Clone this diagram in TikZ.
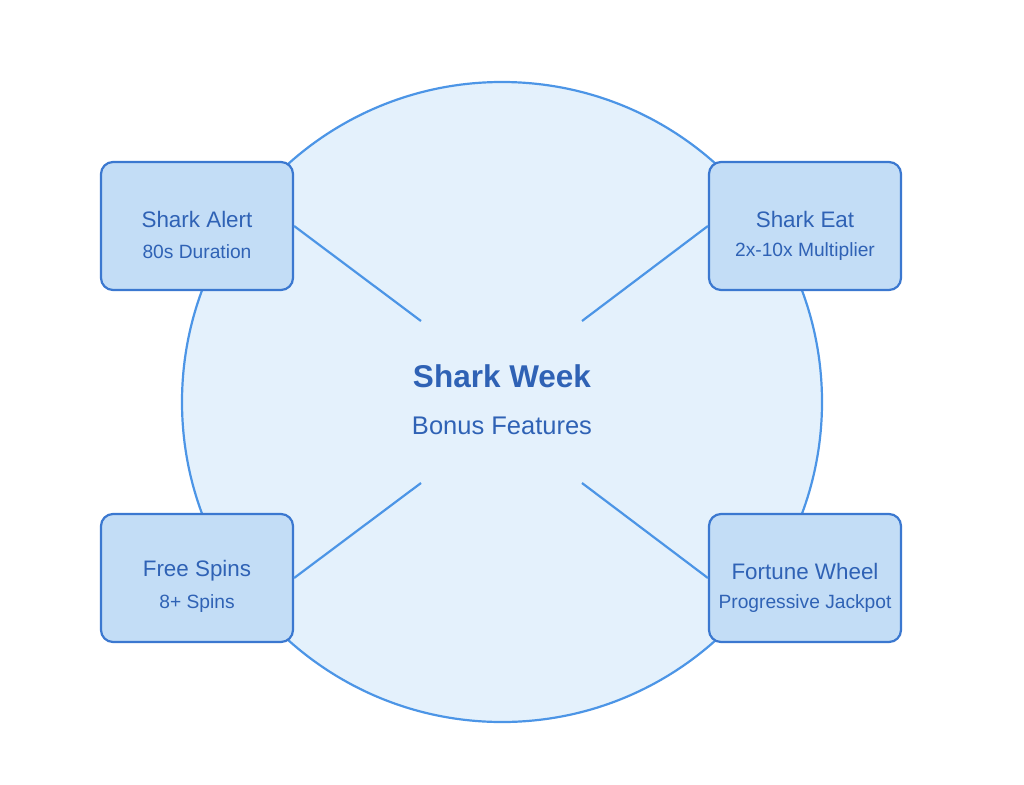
\documentclass[tikz,border=0pt]{standalone}
\usepackage{fontspec}
\setmainfont{Liberation Sans}
\definecolor{circfill}{HTML}{E4F1FC}
\definecolor{circline}{HTML}{4C95E6}
\definecolor{boxfill}{HTML}{C3DDF6}
\definecolor{boxline}{HTML}{3B78D0}
\definecolor{txt}{HTML}{2F62B5}
\begin{document}
\begin{tikzpicture}[x=1pt,y=-1pt,
  feat/.style={draw=boxline,fill=boxfill,line width=2.2pt,rounded corners=12pt,minimum width=192pt,minimum height=128pt,inner sep=0pt},
  link/.style={draw=circline,line width=2.2pt}]
\useasboundingbox (0,0) rectangle (1024,784);
\node[circle,draw=circline,fill=circfill,line width=2.2pt,minimum size=640pt,inner sep=0pt] (hub) at (502,402) {};
\node[text=txt,font=\fontsize{31.5}{36}\selectfont\bfseries] (t1) at (502,376) {Shark Week};
\node[text=txt,font=\fontsize{25.5}{30}\selectfont] (t2) at (502,426) {Bonus Features};
\coordinate (c1) at (421,321);
\coordinate (c2) at (582,321);
\coordinate (c3) at (421,483);
\coordinate (c4) at (582,483);
\node[feat] (a) at (197,226) {};
\node[feat] (b) at (805,226) {};
\node[feat] (c) at (197,578) {};
\node[feat] (d) at (805,578) {};
\draw[link] (a.east) -- (c1);
\draw[link] (b.west) -- (c2);
\draw[link] (c.east) -- (c3);
\draw[link] (d.west) -- (c4);
\foreach \n/\x/\y/\a/\b in {a1/197/226/Shark Alert/80s Duration, b1/805/226/Shark Eat/2x-10x Multiplier, c1t/197/578/Free Spins/8+ Spins, d1/805/578/Fortune Wheel/Progressive Jackpot}{
  \node[text=txt,font=\fontsize{22.4}{26}\selectfont] (\n a) at (\x,\y-7) {\a};
  \node[text=txt,font=\fontsize{19.2}{22}\selectfont] (\n b) at (\x,\y+26) {\b};
}
\end{tikzpicture}
\end{document}
